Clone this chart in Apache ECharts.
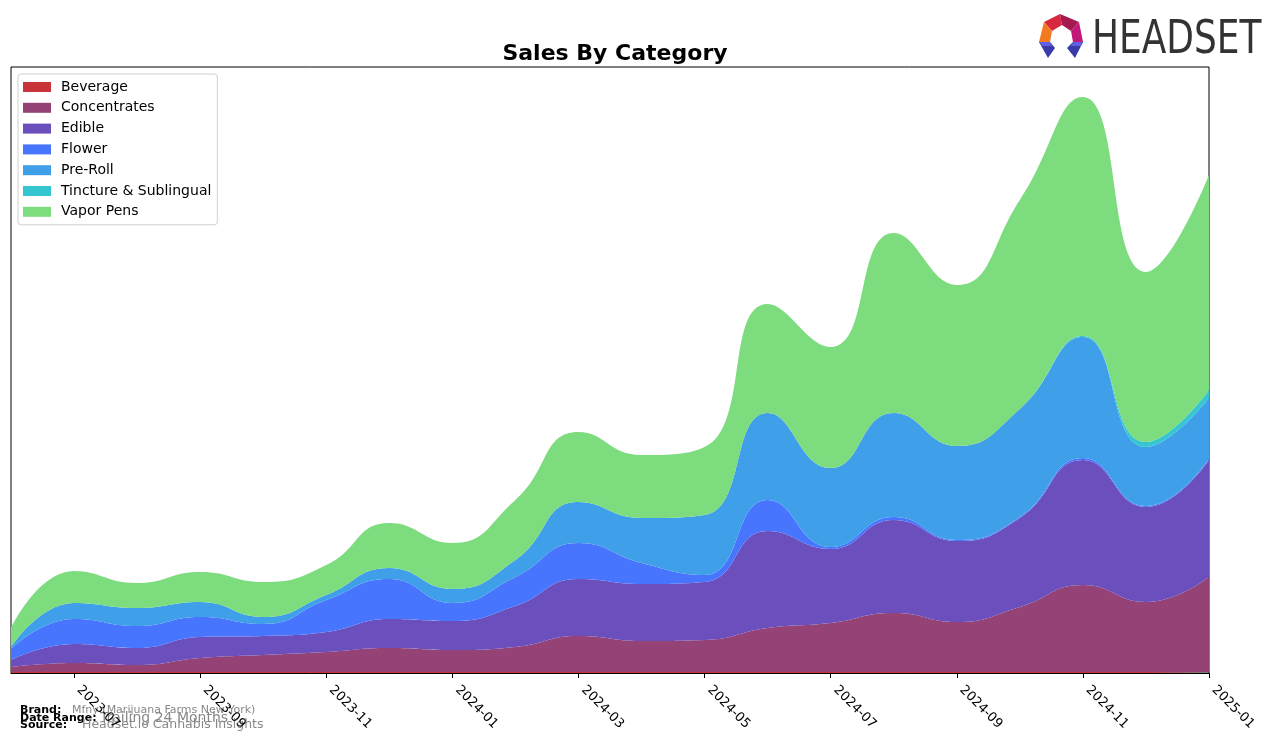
<!DOCTYPE html>
<html>
<head>
<meta charset="utf-8">
<script src="https://cdn.jsdelivr.net/npm/echarts@6/dist/echarts.min.js"></script>
<style>
html,body{margin:0;padding:0;background:#fff;}
#chart{width:1276px;height:743px;}
</style>
</head>
<body>
<div id="chart"></div>
<script>
// Months (category axis)
const months = ['2023-06','2023-07','2023-08','2023-09','2023-10','2023-11','2023-12','2024-01','2024-02','2024-03',
                '2024-04','2024-05','2024-06','2024-07','2024-08','2024-09','2024-10','2024-11','2024-12','2025-01'];
// Series values (relative units)
const beverage     = [1,1,1,1,1,1,1,1,1,1,1,1,1,1,1,1,1,1,1,1];
const concentrates = [5,9,7,14,17,20,24,22,25,36,31,32,44,49,59,50,65,87,70,95];
const edible       = [7,19,17,21,19,20,29,29,41,57,57,58,97,74,93,81,89,125,95,117];
const flower       = [11,25,22,20,12,32,40,18,29,36,21,7,31,2,3,1,1,2,1,1];
const preRoll      = [2,16,18,15,7,5,11,14,17,41,45,60,87,79,104,94,108,121,59,61];
const tincture     = [0,0,0,0,0,0,0,0,0,0,0,0,0,0,0,0,0,1,5,8];
const vaporPens    = [19,32,25,30,35,30,45,46,60,70,63,68,109,121,180,161,209,239,170,215];

const seriesNames = ['Beverage','Concentrates','Edible','Flower','Pre-Roll','Tincture & Sublingual','Vapor Pens'];
const seriesData = [beverage, concentrates, edible, flower, preRoll, tincture, vaporPens];
const colors = ['#c83538','#954276','#6b4fbd','#4775fe','#3f9fe9','#35c6d2','#7cdc7e'];

const chart = echarts.init(document.getElementById('chart'), null, {renderer:'canvas'});
const FONT = 'DejaVu Sans';

const series = seriesNames.map((name, i) => ({
  name: name,
  type: 'line',
  stack: 'total',
  smooth: 0.5,
  showSymbol: false,
  symbol: 'none',
  lineStyle: {width: 0},
  itemStyle: {color: colors[i]},
  areaStyle: {color: colors[i], opacity: 1},
  emphasis: {disabled: true},
  data: seriesData[i]
}));

const oddOnly = function (index) { return index % 2 === 1; };

chart.setOption({
  animation: false,
  backgroundColor: '#fff',
  title: {
    text: 'Sales By Category',
    left: 610, top: 38, textAlign: 'center',
    textStyle: {fontFamily: FONT, fontSize: 22, fontWeight: 'bold', color: '#000'}
  },
  legend: {
    orient: 'vertical',
    left: 18, top: 74,
    padding: [6, 6, 6, 5],
    itemWidth: 28, itemHeight: 10, itemGap: 6.8,
    icon: 'rect',
    borderColor: '#d0d0d0', borderWidth: 1, borderRadius: 3,
    backgroundColor: 'rgba(255,255,255,0.8)',
    textStyle: {fontFamily: FONT, fontSize: 14, color: '#000', lineHeight: 14, padding: [0,0,0,5]},
    data: seriesNames
  },
  grid: {
    left: 11, right: 67, top: 67, bottom: 70,
    show: true, borderColor: '#000', borderWidth: 1, backgroundColor: 'transparent'
  },
  xAxis: {
    type: 'category',
    boundaryGap: false,
    data: months,
    axisLine: {show: true, lineStyle: {color: '#000', width: 1}},
    axisTick: {show: true, interval: oddOnly, length: 5, lineStyle: {color: '#000'}},
    axisLabel: {interval: oddOnly, rotate: -45, margin: 10, padding: [0,0,0,7], fontFamily: FONT, fontSize: 13, color: '#000'},
    splitLine: {show: false}
  },
  yAxis: {
    type: 'value', min: 0, max: 606,
    show: false, splitLine: {show: false}
  },
  series: series,
  graphic: [
    // Headset logo
    {type:'polygon', shape:{points:[[1044,22],[1060,14],[1062,25],[1052,31]]}, style:{fill:'#d8283f'}},
    {type:'polygon', shape:{points:[[1060,14],[1079,22],[1071,31],[1062,25]]}, style:{fill:'#a41a4f'}},
    {type:'polygon', shape:{points:[[1079,22],[1083,42],[1073,42],[1071,31]]}, style:{fill:'#c2187a'}},
    {type:'polygon', shape:{points:[[1044,22],[1052,31],[1050,42],[1039,42]]}, style:{fill:'#f47a22'}},
    {type:'polygon', shape:{points:[[1039,42],[1050,42],[1055,48],[1048,58]]}, style:{fill:'#3a3aa8'}},
    {type:'polygon', shape:{points:[[1073,42],[1083,42],[1075,58],[1067,48]]}, style:{fill:'#3a3aa8'}},
    {type:'polygon', shape:{points:[[1039,42],[1050,42],[1052,46],[1042,46]]}, style:{fill:'#6060e0'}},
    {type:'polygon', shape:{points:[[1073,42],[1083,42],[1081,46],[1071,46]]}, style:{fill:'#6060e0'}},
    {type:'text', x:1092, y:41, scaleX:0.765, style:{text:'HEADSET', fontFamily: FONT, fontSize: 47, fill:'#333', textVerticalAlign:'middle', textAlign:'left'}},
    // Footer
    {type:'text', left:20, top:705, style:{text:'Brand:', fontFamily: FONT, fontSize: 11, fontWeight:'bold', fill:'#000'}},
    {type:'text', left:72, top:705, style:{text:'Mfny (Marijuana Farms New York)', fontFamily: FONT, fontSize: 11, fill:'#888'}},
    {type:'text', left:20, top:713, style:{text:'Date Range:', fontFamily: FONT, fontSize: 11, fontWeight:'bold', fill:'#000'}},
    {type:'text', left:100, top:711, style:{text:'Trailing 24 Months', fontFamily: FONT, fontSize: 14, fill:'#888'}},
    {type:'text', left:20, top:720, style:{text:'Source:', fontFamily: FONT, fontSize: 11, fontWeight:'bold', fill:'#000'}},
    {type:'text', left:82, top:718, style:{text:'Headset.io Cannabis Insights', fontFamily: FONT, fontSize: 12.5, fill:'#888'}}
  ]
});
</script>
</body>
</html>
